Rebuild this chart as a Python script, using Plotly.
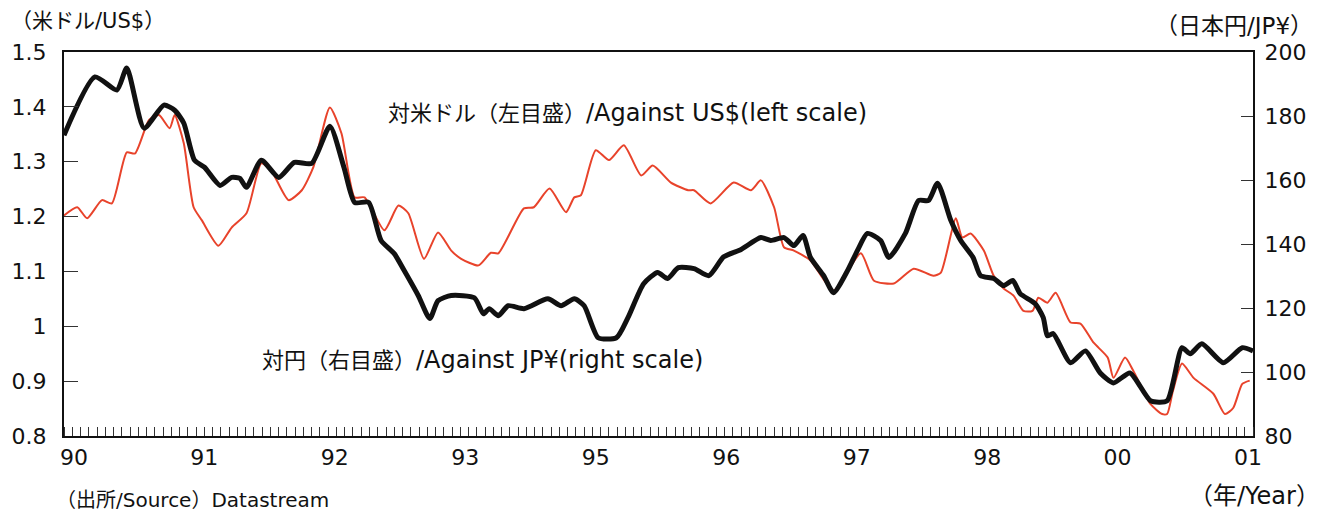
import plotly.graph_objects as go

# month index (0 = start of 1990, 144 = end of axis)
usd_month = [0, 1.6, 2.8, 4.6, 5.8, 7.6, 8.6, 10.3, 11.5, 12.8, 13.4, 14.5, 15.7, 16.7, 18.7, 20.3,
             22.1, 23.9, 25.1, 27.2, 28.8, 30.2, 32.2, 33.6, 35.2, 36.4, 38.8, 40.5, 41.7, 43.6,
             45.3, 46.9, 48.1, 50.2, 51.7, 52.6, 55.7, 56.9, 58.8, 60.8, 61.8, 62.6, 64.4, 66.0,
             67.8, 69.9, 71.3, 73.5, 75.6, 76.3, 78.3, 81.1, 83.2, 84.4, 86.0, 87.2, 88.4, 90.4,
             93.2, 96.5, 98.1, 100.5, 102.9, 105.3, 106.2, 108.0, 108.8, 109.8, 111.4, 112.6,
             113.8, 115.0, 116.2, 117.3, 118.0, 119.1, 120.1, 121.9, 123.1, 124.7, 126.4, 127.1,
             128.5, 129.5, 131.6, 133.0, 133.6, 134.3, 135.4, 136.8, 139.2, 140.6, 141.6, 142.7, 143.6]
usd_rate = [1.202, 1.217, 1.197, 1.230, 1.224, 1.317, 1.315, 1.376, 1.385, 1.361, 1.385, 1.334, 1.217,
            1.193, 1.147, 1.180, 1.206, 1.297, 1.284, 1.230, 1.248, 1.290, 1.399, 1.352, 1.235,
            1.235, 1.175, 1.220, 1.206, 1.123, 1.171, 1.138, 1.123, 1.111, 1.134, 1.133, 1.215,
            1.217, 1.251, 1.208, 1.235, 1.239, 1.321, 1.303, 1.330, 1.275, 1.293, 1.262, 1.248,
            1.248, 1.224, 1.262, 1.248, 1.266, 1.217, 1.144, 1.138, 1.120, 1.065, 1.133, 1.083,
            1.078, 1.105, 1.092, 1.098, 1.197, 1.162, 1.169, 1.138, 1.092, 1.069, 1.056, 1.028,
            1.028, 1.052, 1.043, 1.061, 1.007, 1.005, 0.970, 0.943, 0.906, 0.943, 0.919, 0.858,
            0.840, 0.840, 0.882, 0.932, 0.906, 0.877, 0.840, 0.851, 0.895, 0.901]

jpy_month = [0, 3.75, 6.4, 7.6, 9.7, 12.1, 13.4, 14.5, 15.8, 17.0, 18.9, 20.3, 21.3, 22.1, 23.9, 26.0,
             27.9, 30.0, 32.2, 33.9, 35.2, 36.9, 38.4, 40.0, 41.2, 42.9, 44.3, 45.3, 46.9, 49.7,
             50.8, 51.5, 52.6, 53.8, 55.7, 58.6, 60.2, 61.8, 63.0, 64.7, 66.9, 68.3, 70.2, 71.9,
             73.1, 74.4, 76.3, 78.1, 79.9, 82.0, 84.4, 85.6, 87.2, 88.4, 89.5, 90.4, 92.0, 93.2,
             94.9, 96.1, 97.3, 98.9, 99.9, 101.9, 103.5, 104.7, 105.8, 107.4, 108.6, 110.1, 111.0,
             112.6, 113.8, 114.9, 115.8, 117.6, 118.6, 119.1, 119.8, 121.9, 123.7, 125.5, 127.1,
             129.1, 131.6, 133.6, 135.4, 136.4, 137.8, 140.4, 142.7, 144.0]
jpy_rate = [174.0, 192.2, 188.1, 195.0, 176.2, 183.4, 181.8, 177.8, 166.2, 164.0, 158.3, 160.8, 160.5,
            157.7, 166.2, 160.8, 165.5, 165.2, 176.8, 164.0, 153.0, 153.0, 141.1, 137.0, 131.7,
            123.9, 116.7, 122.3, 123.9, 123.2, 118.2, 119.8, 117.6, 120.7, 119.8, 122.9, 120.7,
            122.9, 120.7, 110.7, 110.7, 117.0, 127.6, 131.1, 129.2, 132.6, 132.3, 130.1, 136.0,
            138.3, 142.0, 141.1, 142.0, 139.5, 142.7, 135.8, 130.1, 124.8, 131.7, 138.0, 143.3,
            141.1, 135.8, 143.3, 153.6, 153.6, 159.0, 147.4, 141.1, 135.8, 130.1, 129.2, 127.0,
            128.6, 124.5, 121.4, 117.0, 111.3, 112.0, 102.9, 106.6, 99.7, 96.6, 99.7, 91.0, 91.0,
            107.6, 105.7, 108.8, 102.9, 107.6, 106.6]

year_labels = ["90", "91", "92", "93", "95", "96", "97", "98", "00", "01"]
left_ticks = [0.8, 0.9, 1.0, 1.1, 1.2, 1.3, 1.4, 1.5]
left_labels = ["0.8", "0.9", "1", "1.1", "1.2", "1.3", "1.4", "1.5"]
right_ticks = [80, 100, 120, 140, 160, 180, 200]

LAT = "DejaVu Sans, Noto Sans CJK JP"
year_pos = [1.2 + 15.8 * i for i in range(len(year_labels))]

fig = go.Figure()
fig.add_trace(go.Scatter(x=usd_month, y=usd_rate, mode="lines", yaxis="y",
                         line=dict(color="#E8432B", width=2, shape="spline", smoothing=0.6),
                         showlegend=False, hoverinfo="skip"))
fig.add_trace(go.Scatter(x=jpy_month, y=jpy_rate, mode="lines", yaxis="y2",
                         line=dict(color="#111111", width=5, shape="spline", smoothing=0.6),
                         showlegend=False, hoverinfo="skip"))

fig.update_layout(
    width=1325, height=513,
    margin=dict(l=62, r=72, t=52, b=77),
    paper_bgcolor="white", plot_bgcolor="white",
    font=dict(family=LAT, size=22, color="#111111"),
    xaxis=dict(range=[0, 144], showgrid=False, zeroline=False,
               showline=True, linecolor="#111111", linewidth=2, mirror=True,
               tickmode="array", tickvals=year_pos, ticktext=year_labels, ticks="",
               ticklabelstandoff=1,
               tickfont=dict(family=LAT, size=22, color="#111111"),
               minor=dict(tickmode="linear", tick0=0, dtick=1, ticks="inside",
                          ticklen=9, tickwidth=1, tickcolor="#333333", showgrid=False)),
    yaxis=dict(range=[0.8, 1.5], showgrid=False, zeroline=False,
               showline=True, linecolor="#111111", linewidth=2,
               tickmode="array", tickvals=left_ticks, ticktext=left_labels,
               ticks="inside", ticklen=14, tickwidth=1, tickcolor="#333333",
               ticklabelstandoff=11,
               tickfont=dict(family=LAT, size=22, color="#111111")),
    yaxis2=dict(range=[80, 200], overlaying="y", side="right", showgrid=False, zeroline=False,
                showline=True, linecolor="#111111", linewidth=2,
                tickmode="array", tickvals=right_ticks,
                ticks="inside", ticklen=12, tickwidth=1, tickcolor="#333333",
                ticklabelstandoff=5,
                tickfont=dict(family=LAT, size=22, color="#111111")),
)

def ann(text, x, y, xanchor, yanchor="middle", size=21):
    fig.add_annotation(text=text, x=x, y=y, xref="paper", yref="paper",
                       xanchor=xanchor, yanchor=yanchor, showarrow=False,
                       font=dict(family=LAT, size=size, color="#111111"))

ann("（米ドル/US$）", -0.046, 1.080, "left", size=21)
ann("（日本円/JP¥）", 1.052, 1.068, "right", size=23)
ann("（年/Year）", 1.058, -0.157, "right", size=24)
ann("（出所/Source）Datastream", -0.008, -0.166, "left", size=20)
ann("対米ドル（左目盛）<span style='font-size:24px'>/Against US$(left scale)</span>",
    0.4736, 0.841, "center", size=22)
ann("対円（右目盛）<span style='font-size:24px'>/Against JP¥(right scale)</span>",
    0.3518, 0.198, "center", size=22)

fig.write_html("out.html", config={"displayModeBar": False},
               post_script="document.body.style.margin='0px';")
